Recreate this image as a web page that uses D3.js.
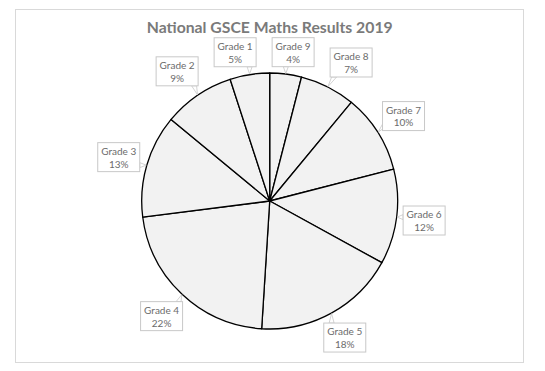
<!DOCTYPE html>
<html lang="en">
<head>
    <meta charset="UTF-8">
    <script src="https://d3js.org/d3.v7.min.js"></script>
    <title>National GSCE Maths Results 2019</title>
    <style>
        html, body {
            margin: 0px;
            padding: 0px;
            background-color: #ffffff;
            font-family: "Lato", sans-serif;
        }
        svg { display: block; }
    </style>
</head>
<body>
    <div id="chart"></div>

    <script>
        // values, clockwise from 12 o'clock
        const grades = ["Grade 9", "Grade 8", "Grade 7", "Grade 6", "Grade 5", "Grade 4", "Grade 3", "Grade 2", "Grade 1"];
        const percents = [4, 7, 10, 12, 18, 22, 13, 9, 5];
        const title = "National GSCE Maths Results 2019";

        let width = 545;
        let height = 371;

        let cx = 269.7, cy = 201, radius = 128;
        let boxW = 42, boxH = 29, gap = 5, minSpace = 16;

        let svg = d3.select('#chart').append('svg').attr('width', width).attr('height', height);

        // chart area border
        svg.append('rect')
            .attr('x', 15.5).attr('y', 9.5)
            .attr('width', 508).attr('height', 353)
            .attr('fill', '#fff')
            .attr('stroke', '#d9d9d9')
            .attr('stroke-width', 1);

        // title, fitted to the width it has in the reference
        let titleText = svg.append('text')
            .attr('x', cx).attr('y', 33.3)
            .attr('text-anchor', 'middle')
            .attr('font-weight', 'bold')
            .attr('font-size', 16)
            .attr('fill', '#7a7a7a')
            .text(title);
        let tw = titleText.node().getComputedTextLength();
        titleText.attr('font-size', 16 * 246 / tw);

        let pie = d3.pie().sort(null).value(d => d);
        let arcs = pie(percents);
        let arc = d3.arc().innerRadius(0).outerRadius(radius);

        let g = svg.append('g').attr('transform', `translate(${cx},${cy})`);

        g.selectAll('path.slice')
            .data(arcs)
            .join('path')
            .attr('class', 'slice')
            .attr('d', arc)
            .attr('fill', '#f2f2f2')
            .attr('stroke', '#000')
            .attr('stroke-width', 1.3)
            .attr('stroke-linejoin', 'round');

        // callout label placement along each slice's mid angle
        let places = arcs.map(d => {
            let a = (d.startAngle + d.endAngle) / 2;
            let s = Math.sin(a), c = -Math.cos(a);
            let dist = radius + gap + (boxW / 2) * Math.abs(s) + (boxH / 2) * Math.abs(c);
            return {
                tip: [(radius + 0.5) * s, (radius + 0.5) * c],
                x: dist * s,
                y: dist * c
            };
        });

        // push crowded callouts apart sideways
        for (let k = 0; k < 60; k++) {
            for (let i = 0; i < places.length; i++) {
                for (let j = i + 1; j < places.length; j++) {
                    let p = places[i], q = places[j];
                    let dx = q.x - p.x, dy = q.y - p.y;
                    if (Math.abs(dy) < boxH + 2 && Math.abs(dx) < boxW + minSpace) {
                        let push = (boxW + minSpace - Math.abs(dx)) / 2;
                        let sgn = dx >= 0 ? 1 : -1;
                        p.x -= sgn * push;
                        q.x += sgn * push;
                    }
                }
            }
        }

        function tailPoints(p) {
            let x0 = p.x - boxW / 2, x1 = p.x + boxW / 2;
            let y0 = p.y - boxH / 2, y1 = p.y + boxH / 2;
            let tx = p.tip[0], ty = p.tip[1];
            let b1, b2, w = 2.5;
            let dx = Math.abs(tx - p.x) / boxW, dy = Math.abs(ty - p.y) / boxH;
            if (dy >= dx) {
                let yy = ty > p.y ? y1 : y0;
                let xx = Math.max(x0 + 4, Math.min(x1 - 4, tx));
                b1 = [xx - w, yy]; b2 = [xx + w, yy];
            } else {
                let xx = tx > p.x ? x1 : x0;
                let yy = Math.max(y0 + 4, Math.min(y1 - 4, ty));
                b1 = [xx, yy - w]; b2 = [xx, yy + w];
            }
            return [b1, [tx, ty], b2];
        }

        let labels = g.selectAll('g.label')
            .data(arcs)
            .join('g')
            .attr('class', 'label');

        labels.append('polygon')
            .attr('points', (d, i) => tailPoints(places[i]).map(p => p.join(',')).join(' '))
            .attr('fill', '#fff')
            .attr('stroke', '#c8c8c8')
            .attr('stroke-width', 0.8);

        labels.append('rect')
            .attr('x', (d, i) => places[i].x - boxW / 2)
            .attr('y', (d, i) => places[i].y - boxH / 2)
            .attr('width', boxW)
            .attr('height', boxH)
            .attr('fill', '#fff')
            .attr('stroke', '#c8c8c8')
            .attr('stroke-width', 1);

        labels.append('text')
            .attr('x', (d, i) => places[i].x)
            .attr('y', (d, i) => places[i].y - 2.2)
            .attr('text-anchor', 'middle')
            .attr('font-size', 10)
            .attr('fill', '#6b6b6b')
            .text((d, i) => grades[i]);

        labels.append('text')
            .attr('x', (d, i) => places[i].x)
            .attr('y', (d, i) => places[i].y + 10.4)
            .attr('text-anchor', 'middle')
            .attr('font-size', 10)
            .attr('fill', '#6b6b6b')
            .text(d => d.data + '%');
    </script>
</body>
</html>
